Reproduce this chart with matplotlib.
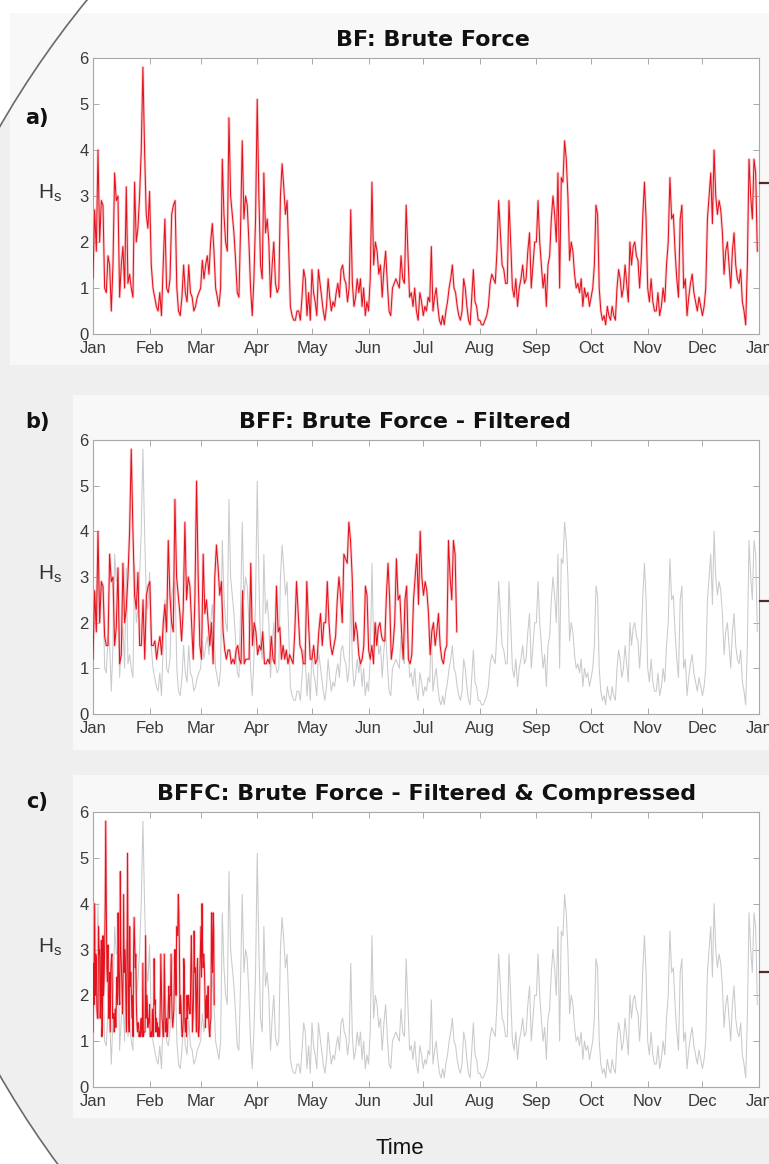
import datetime as dt

import numpy as np
import matplotlib
matplotlib.use("Agg")
import matplotlib.pyplot as plt
import matplotlib.dates as mdates
from matplotlib.patches import Ellipse, Rectangle
from matplotlib.lines import Line2D

plt.rcParams['font.family'] = ['Liberation Sans', 'DejaVu Sans']
plt.rcParams['mathtext.default'] = 'regular'

YEAR = 2013
month_labels = ['Jan', 'Feb', 'Mar', 'Apr', 'May', 'Jun',
                'Jul', 'Aug', 'Sep', 'Oct', 'Nov', 'Dec', 'Jan']

# significant wave height (m), roughly daily samples, one list per month
hs_jan = [1.2, 2.7, 1.8, 4.0, 2.0, 2.9, 2.8, 1.0, 0.9, 1.7, 1.5, 0.5, 1.5, 3.5, 2.9, 3.0, 0.8,
          1.5, 1.9, 1.0, 3.2, 1.1, 1.3, 1.0, 0.8, 3.3, 2.0, 2.3, 3.0, 4.0, 5.8, 4.0, 2.6, 2.3]
hs_feb = [3.1, 1.5, 1.0, 0.8, 0.6, 0.5, 0.9, 0.4, 1.5, 2.5, 1.0, 0.9, 1.2, 2.6, 2.8, 2.9, 1.0,
          0.5, 0.4, 0.8, 1.5, 0.9, 0.7, 1.5, 0.9, 0.8, 0.5, 0.6, 0.8, 0.9]
hs_mar = [1.0, 1.6, 1.2, 1.5, 1.7, 1.3, 2.0, 2.4, 1.8, 1.0, 0.8, 0.6, 1.0, 3.8, 2.6, 2.0, 1.8,
          4.7, 3.0, 2.6, 2.2, 1.6, 0.9, 0.8, 2.3, 4.2, 2.5, 3.0, 2.8, 2.0, 1.0, 0.4, 1.2, 2.5]
hs_apr = [5.1, 3.0, 1.5, 1.2, 3.5, 2.2, 2.5, 2.0, 0.8, 1.5, 2.0, 1.1, 0.9, 1.0, 3.0, 3.7, 3.2,
          2.6, 2.9, 1.8, 0.6, 0.4, 0.3, 0.3, 0.5, 0.5, 0.3, 0.8, 1.4, 1.2, 0.4, 0.9, 0.3]
hs_may = [1.4, 0.9, 0.7, 0.4, 1.4, 1.1, 0.8, 0.5, 0.3, 0.6, 1.2, 0.8, 0.5, 0.7, 0.6, 0.9, 1.1,
          0.8, 1.4, 1.5, 1.2, 1.1, 0.7, 1.0, 2.7, 1.1, 0.6, 0.8, 1.2, 0.9, 1.2, 0.6, 1.0, 0.4, 0.7]
hs_jun = [0.5, 1.2, 3.3, 1.5, 2.0, 1.8, 1.3, 1.5, 0.8, 1.4, 1.8, 1.1, 0.5, 0.4, 1.0, 1.1, 1.2,
          1.1, 1.0, 1.7, 1.2, 1.1, 2.8, 1.8, 0.8, 0.9, 0.6, 1.0, 0.5, 0.3, 0.9, 0.7]
hs_jul = [0.4, 0.6, 0.5, 0.8, 0.7, 1.9, 0.5, 0.8, 1.0, 0.6, 0.3, 0.2, 0.4, 0.2, 0.5, 0.7, 1.0,
          1.2, 1.5, 1.0, 0.9, 0.6, 0.4, 0.3, 0.5, 1.2, 1.0, 0.6, 0.3, 0.2, 0.8, 1.4, 0.7, 0.6, 0.3]
hs_aug = [0.3, 0.2, 0.2, 0.3, 0.4, 0.6, 1.1, 1.3, 1.2, 1.1, 1.8, 2.9, 2.2, 1.5, 1.4, 1.1, 1.1,
          2.9, 2.0, 1.0, 0.8, 1.2, 0.6, 1.0, 1.2, 1.5, 1.1, 1.2, 1.8, 2.2, 1.0, 1.5, 2.0]
hs_sep = [2.0, 2.9, 2.0, 1.5, 1.0, 1.3, 0.6, 1.5, 1.7, 2.5, 3.0, 2.6, 2.0, 3.5, 1.0, 3.4, 3.3,
          4.2, 3.8, 3.0, 1.6, 2.0, 1.8, 1.3, 1.0, 1.1, 0.9, 1.2, 0.6, 1.0, 0.8, 0.9, 0.6]
hs_oct = [0.8, 1.0, 1.5, 2.8, 2.6, 1.0, 0.5, 0.3, 0.4, 0.2, 0.6, 0.4, 0.3, 0.6, 0.4, 0.3, 1.0,
          1.4, 1.2, 0.8, 1.0, 1.5, 1.1, 0.7, 2.0, 1.5, 1.9, 2.0, 1.7, 1.6, 1.0, 1.6, 2.6, 3.3, 2.5]
hs_nov = [1.0, 0.7, 1.2, 0.7, 0.5, 0.5, 0.9, 0.4, 0.6, 1.0, 0.7, 1.5, 2.0, 3.4, 2.5, 2.6, 1.8,
          1.2, 0.8, 2.5, 2.8, 1.0, 1.2, 0.4, 0.8, 1.1, 1.3, 0.9, 0.7, 0.5, 0.8, 0.6]
hs_dec = [0.4, 0.6, 1.0, 2.5, 3.0, 3.5, 2.4, 4.0, 3.0, 2.6, 2.9, 2.7, 2.2, 1.3, 1.8, 2.0, 1.5,
          1.0, 1.8, 2.2, 1.5, 1.2, 1.1, 1.4, 0.7, 0.5, 0.2, 1.5, 3.8, 3.0, 2.5, 3.8, 3.5, 1.8]

hs_months = [hs_jan, hs_feb, hs_mar, hs_apr, hs_may, hs_jun,
             hs_jul, hs_aug, hs_sep, hs_oct, hs_nov, hs_dec]

hs_threshold = 1.0     # BFF keeps only sea states above this
compress_ratio = 3.0   # BFFC squeezes the filtered record in time

titles = ['BF: Brute Force',
          'BFF: Brute Force - Filtered',
          'BFFC: Brute Force - Filtered & Compressed']
tags = ['a)', 'b)', 'c)']

RED = '#e3121c'
RED_HALO = '#f6a9ae'
GREY = '#c8cacd'


def month_edges():
    edges = [dt.datetime(YEAR, m, 1) for m in range(1, 13)] + [dt.datetime(YEAR + 1, 1, 1)]
    return mdates.date2num(edges)


def build_series():
    edges = month_edges()
    t, h, step = [], [], []
    for i, vals in enumerate(hs_months):
        n = len(vals)
        d = (edges[i + 1] - edges[i]) / n
        t.extend(edges[i] + d * np.arange(n))
        step.extend([d] * n)
        h.extend(vals)
    return np.array(t), np.array(h), np.array(step)


t_full, hs_full, step_full = build_series()
t0 = month_edges()[0]

# filtered record: drop calm states and close up the gaps
keep = hs_full > hs_threshold
hs_filt = hs_full[keep]
t_filt = t0 + np.cumsum(step_full[keep]) - step_full[keep]
t_comp = t0 + (t_filt - t0) / compress_ratio


def draw_red(ax, t, h):
    ax.plot(t, h, color=RED_HALO, lw=2.0, alpha=0.55, zorder=3)
    ax.plot(t, h, color=RED, lw=0.75, zorder=4)


def style_axes(ax, title, title_x, tag, tag_y):
    edges = month_edges()
    ax.set_xlim(edges[0], edges[-1])
    ax.set_ylim(0, 6)
    ax.set_xticks(edges)
    ax.set_xticklabels(month_labels)
    ax.set_yticks(range(0, 7))
    ax.tick_params(direction='in', top=True, right=True, length=4, width=0.6,
                   color='#9a9a9a', labelsize=12, labelcolor='#3a3a3a', pad=3)
    ax.tick_params(axis='x', pad=5)
    for s in ax.spines.values():
        s.set_color('#a8a8a8')
        s.set_linewidth(0.8)
    ax.set_ylabel('H$_s$', rotation=0, fontsize=15, color='#333333')
    ax.yaxis.set_label_coords(-0.065, 0.47)
    ax.text(title_x, 1.03, title, transform=ax.transAxes, ha='center', va='bottom',
            fontsize=16, fontweight='bold', family='DejaVu Sans', color='#111111')
    ax.text(-0.084, tag_y, tag, transform=ax.transAxes, ha='center', va='center',
            fontsize=15, fontweight='bold', family='DejaVu Sans', color='#111111')


fig = plt.figure(figsize=(7.69, 11.64), dpi=100)
fig.patch.set_facecolor('white')

W, H = 769.0, 1164.0
disc = dict(xy=(824 / W, 1 - 601 / H), width=2 * 951 / W, height=2 * 951 / H,
            transform=fig.transFigure)
# slide background: a large grey disc clipped by the page
fig.add_artist(Ellipse(**disc, facecolor='#efefef', edgecolor='none', zorder=-10))
fig.add_artist(Rectangle((0, 1 - 13 / H), 1, 13 / H, transform=fig.transFigure,
                         facecolor='white', edgecolor='none', zorder=-9))
# lighter panels behind each subplot
for x0, y0, y1 in [(10, 13, 365), (73, 395, 750), (73, 775, 1118)]:
    fig.add_artist(Rectangle((x0 / W, 1 - y1 / H), 1 - x0 / W, (y1 - y0) / H,
                             transform=fig.transFigure, facecolor='#f8f8f8',
                             edgecolor='none', zorder=-8))
fig.add_artist(Ellipse(**disc, facecolor='none', edgecolor='#6a6a6a', lw=1.2, zorder=-7))

boxes = [[93 / W, 1 - 334 / H, 666 / W, 276 / H],
         [93 / W, 1 - 714 / H, 666 / W, 274 / H],
         [93 / W, 1 - 1087 / H, 666 / W, 275 / H]]
title_xs = [0.51, 0.468, 0.501]
tag_ys = [0.783, 1.066, 1.036]

axes = [fig.add_axes(b) for b in boxes]

draw_red(axes[0], t_full, hs_full)

axes[1].plot(t_full, hs_full, color=GREY, lw=0.75, zorder=2)
draw_red(axes[1], t_filt, hs_filt)

axes[2].plot(t_full, hs_full, color=GREY, lw=0.75, zorder=2)
draw_red(axes[2], t_comp, hs_filt)

for ax, title, tx, tag, ty in zip(axes, titles, title_xs, tags, tag_ys):
    ax.set_facecolor('white')
    style_axes(ax, title, tx, tag, ty)

# short markers poking in from the right edge
for y in [183, 601, 972]:
    fig.add_artist(Line2D([760 / W, 1.0], [1 - y / H, 1 - y / H], transform=fig.transFigure,
                          color='#5a2a2a', lw=1.6))

fig.text(400 / W, 1 - 1148 / H, 'Time', ha='center', va='center', fontsize=16, color='#111111')

fig.savefig('out.png', dpi=100)
